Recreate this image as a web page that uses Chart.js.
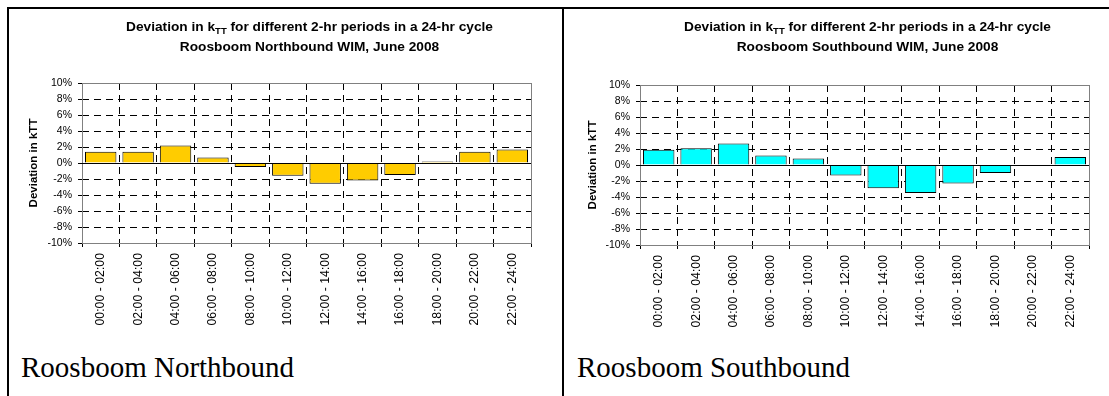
<!DOCTYPE html>
<html>
<head>
<meta charset="utf-8">
<script src="https://cdn.jsdelivr.net/npm/chart.js@4.4.1/dist/chart.umd.min.js"></script>
<style>
  body { margin: 0; background: #fff; width: 1109px; height: 396px; position: relative; overflow: hidden; }
  .linha { position: absolute; background: #000; }
  canvas { position: absolute; }
  .legenda { position: absolute; font-family: "Liberation Serif", "Times New Roman", serif; font-size: 29px; line-height: 29px; color: #000; white-space: nowrap; }
</style>
</head>
<body>
<div class="linha" style="left:7px;top:7px;width:1102px;height:2px"></div>
<div class="linha" style="left:7px;top:7px;width:2px;height:389px"></div>
<div class="linha" style="left:562px;top:7px;width:2px;height:389px"></div>
<canvas id="graficoNorte" width="553" height="330" style="left:9px;top:9px"></canvas>
<canvas id="graficoSul" width="545" height="330" style="left:564px;top:9px"></canvas>
<div class="legenda" style="left:21px;top:353px">Roosboom Northbound</div>
<div class="legenda" style="left:577px;top:353px">Roosboom Southbound</div>
<script>
// ---------------------------------------------------------------
// Dados (desvio em %)
const periodos = ['00:00 - 02:00', '02:00 - 04:00', '04:00 - 06:00', '06:00 - 08:00',
  '08:00 - 10:00', '10:00 - 12:00', '12:00 - 14:00', '14:00 - 16:00',
  '16:00 - 18:00', '18:00 - 20:00', '20:00 - 22:00', '22:00 - 24:00'];
const desvioNorte = [1.4, 1.4, 2.2, 0.7, -0.5, -1.6, -2.6, -2.2, -1.5, 0.2, 1.4, 1.7];
const desvioSul = [1.9, 2.1, 2.7, 1.2, 0.8, -1.3, -2.9, -3.5, -2.3, -1.0, 0, 1.0];

// eixo Y: -10% a 10%, de 2 em 2
const eixoMin = -10;
const eixoMax = 10;
const eixoPasso = 2;

// textos
const tituloAntes = 'Deviation in k';
const tituloSub = 'TT';
const tituloDepois = ' for different 2-hr periods in a 24-hr cycle';
const subtituloNorte = 'Roosboom Northbound WIM, June 2008';
const subtituloSul = 'Roosboom Southbound WIM, June 2008';
const tituloEixoY = 'Deviation in kTT';
// ---------------------------------------------------------------

const fonteSans = '"Liberation Sans", Arial, Helvetica, sans-serif';

// Plugin: linha do zero, moldura cinza da área e título com subscrito
const pluginMoldura = {
  id: 'moldura',
  afterDatasetsDraw(chart) {
    const { ctx, chartArea: a, scales: { y } } = chart;
    const y0 = Math.round(y.getPixelForValue(0)) + 0.5;
    ctx.save();
    ctx.strokeStyle = '#808080';
    ctx.lineWidth = 1;
    ctx.strokeRect(Math.round(a.left) + 0.5, Math.round(a.top) + 0.5, Math.round(a.width), Math.round(a.height));
    ctx.strokeStyle = '#000';
    ctx.beginPath();
    ctx.moveTo(a.left, y0);
    ctx.lineTo(a.right, y0);
    ctx.stroke();
    ctx.restore();
  },
  afterDraw(chart, args, opts) {
    const { ctx, chartArea: a } = chart;
    const cx = (a.left + a.right) / 2 + 3;
    const fonteTitulo = 'bold 13.7px ' + fonteSans;
    const fontePequena = 'bold 9.5px ' + fonteSans;
    const partes = [[tituloAntes, fonteTitulo, 0], [tituloSub, fontePequena, 3], [tituloDepois, fonteTitulo, 0]];
    ctx.save();
    ctx.fillStyle = '#000';
    ctx.textBaseline = 'alphabetic';
    ctx.textAlign = 'left';
    let total = 0;
    partes.forEach(p => { ctx.font = p[1]; total += ctx.measureText(p[0]).width; });
    let x = cx - total / 2;
    partes.forEach(p => {
      ctx.font = p[1];
      ctx.fillText(p[0], x, 21.5 + p[2]);
      x += ctx.measureText(p[0]).width;
    });
    ctx.font = fonteTitulo;
    ctx.textAlign = 'center';
    ctx.fillText(opts.subtitulo, cx, 42);
    ctx.restore();
  }
};

function criarGrafico(idCanvas, valores, cor, subtitulo, larguraEixoY, recuoTituloY, topo, direita, alturaEixoX) {
  const ctx = document.getElementById(idCanvas).getContext('2d');
  return new Chart(ctx, {
    type: 'bar',
    data: {
      labels: periodos,
      datasets: [{
        data: valores,
        backgroundColor: cor,
        borderColor: '#000',
        borderWidth: 1,
        barPercentage: 0.84,
        categoryPercentage: 1
      }]
    },
    options: {
      responsive: false,
      animation: false,
      layout: { padding: { left: 0, top: topo, right: direita, bottom: 0 } },
      plugins: {
        legend: { display: false },
        tooltip: { enabled: false },
        moldura: { subtitulo: subtitulo }
      },
      scales: {
        x: {
          grid: {
            offset: true,
            color: '#000',
            tickLength: 4,
            tickBorderDash: []
          },
          // no v4 o tracejado das linhas de grade fica em border.dash
          border: { display: false, dash: [7, 5] },
          ticks: {
            autoSkip: false,
            minRotation: 90,
            maxRotation: 90,
            padding: 6,
            color: '#000',
            font: { family: fonteSans, size: 12.3 }
          },
          afterFit: s => { s.height = alturaEixoX; }
        },
        y: {
          min: eixoMin,
          max: eixoMax,
          grid: {
            color: c => (c.tick && (c.tick.value === 0 || Math.abs(c.tick.value) === 10)) ? 'rgba(0,0,0,0)' : '#000',
            tickColor: '#000',
            tickLength: 4,
            tickBorderDash: []
          },
          border: { display: false, dash: [7, 5] },
          ticks: {
            stepSize: eixoPasso,
            padding: 6,
            color: '#000',
            font: { family: fonteSans, size: 10.5 },
            callback: v => v + '%'
          },
          title: {
            display: true,
            text: tituloEixoY,
            color: '#000',
            padding: { top: recuoTituloY, bottom: 0 },
            font: { family: fonteSans, size: 11.5, weight: 'bold' }
          },
          afterFit: s => { s.width = larguraEixoY; }
        }
      }
    },
    plugins: [pluginMoldura]
  });
}

criarGrafico('graficoNorte', desvioNorte, '#FFCC00', subtituloNorte, 73, 18, 74, 31, 96);
criarGrafico('graficoSul', desvioSul, '#00FFFF', subtituloSul, 76, 22, 76, 20, 94);
</script>
</body>
</html>
